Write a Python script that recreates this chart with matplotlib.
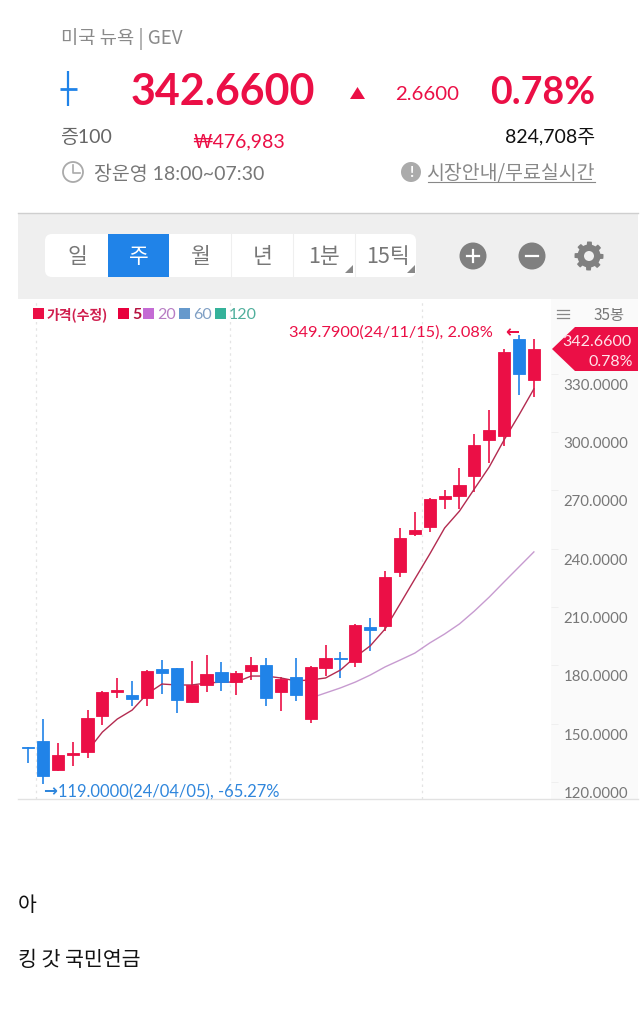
import numpy as np
import matplotlib
matplotlib.use('Agg')
import matplotlib.pyplot as plt
from matplotlib.patches import Rectangle, FancyBboxPatch, Circle, Polygon

plt.rcParams['font.family'] = ['Lato', 'Noto Sans CJK KR', 'DejaVu Sans']

# weekly candles
opens = [137.9, 141.1, 126.2, 134.1, 135.5, 154.0, 166.5, 164.8, 163.2, 178.1, 178.6, 161.2,
         169.9, 176.6, 171.4, 177.1, 180.2, 166.3, 174.0, 152.4, 178.6, 184.0, 181.7, 199.7,
         200.2, 228.0, 247.5, 251.1, 265.5, 267.1, 277.3, 295.9, 297.9, 347.8, 326.7]
highs = [137.9, 152.4, 140.1, 140.6, 157.0, 166.8, 173.5, 171.9, 177.6, 182.7, 178.6, 182.2,
         185.3, 181.7, 177.1, 184.3, 183.8, 174.0, 183.8, 179.7, 190.5, 186.9, 201.3, 204.3,
         228.5, 250.6, 258.8, 266.0, 270.1, 281.5, 298.9, 311.3, 342.6, 349.8, 347.8]
lows = [129.8, 119.0, 125.7, 128.3, 132.4, 149.3, 163.2, 159.1, 159.1, 165.3, 155.5, 160.6,
        166.3, 166.8, 164.8, 172.5, 159.1, 156.5, 161.7, 150.4, 174.5, 173.5, 179.2, 187.4,
        197.7, 225.4, 246.5, 248.6, 260.4, 260.4, 269.1, 284.0, 292.8, 319.0, 318.0]
closes = [137.3, 123.1, 133.9, 134.7, 152.9, 166.3, 167.1, 162.7, 177.1, 176.1, 162.2, 169.9,
          175.6, 171.4, 176.1, 180.2, 163.2, 173.0, 164.8, 179.2, 183.8, 183.5, 200.7, 198.2,
          225.4, 245.5, 249.6, 265.5, 267.1, 272.7, 293.3, 301.0, 341.1, 329.8, 342.66]

# moving averages start late, so they get their own first index
ma5_start = 4
ma5 = [136.0, 145.7, 152.4, 157.0, 165.3, 170.4, 169.9, 169.9, 170.9, 171.4, 171.4, 174.5,
       174.5, 173.5, 172.0, 172.5, 173.5, 177.6, 184.3, 190.0, 198.7, 211.5, 224.4, 237.2,
       250.6, 259.3, 270.7, 282.0, 295.9, 308.7, 322.1]
ma20_start = 19
ma20 = [163.2, 165.8, 168.4, 171.4, 175.0, 179.2, 182.7, 186.3, 191.5, 196.1, 201.3, 207.9,
        215.1, 222.9, 230.6, 238.3]

y_ticks = [120, 150, 180, 210, 240, 270, 300, 330]
grid_x = [0.54, 13.6, 26.5]

legend_items = [('5', '#E8003D', '#B5133F'), ('20', '#C46BD4', '#B77CC4'),
                ('60', '#6699CC', '#7F9FC4'), ('120', '#35B29A', '#4FAF9C')]
tabs = ['일', '주', '월', '년', '1분', '15틱']

RED = '#EB0F46'
BLUE = '#2083E8'
KR = ['Noto Sans CJK KR', 'DejaVu Sans']


def px_axes(fig, z):
    # overlay axes in image pixels
    a = fig.add_axes([0, 0, 1, 1], zorder=z)
    a.set_xlim(0, 640)
    a.set_ylim(1020, 0)
    a.axis('off')
    a.patch.set_alpha(0)
    return a


fig = plt.figure(figsize=(6.4, 10.2), dpi=100, facecolor='white')
bg = px_axes(fig, 0)
fg = px_axes(fig, 2)

# toolbar and side panel
bg.add_patch(Rectangle((18, 214), 620, 86, fc='#EFEFEF', ec='none'))
bg.plot([18, 638], [213.5, 213.5], color='#CFCFCF', lw=1)
bg.add_patch(Rectangle((551, 300), 87, 500, fc='#FAFAFA', ec='none'))
bg.plot([18, 638], [799.5, 799.5], color='#E2E2E2', lw=1)
bg.add_patch(FancyBboxPatch((45, 235), 371, 43, boxstyle='round,pad=0,rounding_size=7',
                            fc='white', ec='none'))
bg.add_patch(Rectangle((108, 235), 61, 43, fc=BLUE, ec='none'))
for x in [231, 293, 355]:
    bg.plot([x, x], [235, 278], color='#EFEFEF', lw=0.8)
tab_x = [77, 139, 201, 263, 324, 388]
for i, name in enumerate(tabs):
    bg.text(tab_x[i], 257, name, ha='center', va='center', fontsize=15.5, family=KR,
            color='white' if i == 1 else '#777777')
bg.add_patch(Polygon([[353, 266], [353, 274], [345, 274]], fc='#888888', ec='none'))
bg.add_patch(Polygon([[415, 266], [415, 274], [407, 274]], fc='#888888', ec='none'))

for cx in [473, 532]:
    bg.add_patch(Circle((cx, 257), 13.5, fc='#808080', ec='none'))
    bg.plot([cx - 6, cx + 6], [257, 257], color='white', lw=1.6)
bg.plot([473, 473], [251, 263], color='white', lw=1.6)

# gear
ang = np.linspace(0, 2 * np.pi, 97)
rad = 14.5 - 3 * (np.cos(8 * ang) < 0)
bg.add_patch(Polygon(np.c_[589 + rad * np.cos(ang), 257 + rad * np.sin(ang)], fc='#808080', ec='none'))
bg.add_patch(Circle((589, 257), 5, fc='#EFEFEF', ec='none'))

# candle chart, positioned so bar i lands where the picture has it
ax = fig.add_axes([18 / 640, 1 - 800 / 1020, 533 / 640, 500 / 1020], zorder=1)
ax.patch.set_alpha(0)
ax.set_xlim(-0.672, 35.15)
ax.set_ylim(111.3, 368.3)
for s in ax.spines.values():
    s.set_visible(False)
ax.set_xticks([])
ax.yaxis.tick_right()
ax.set_yticks(y_ticks)
ax.set_yticklabels([])
ax.tick_params(axis='y', length=5, width=0.6, color='#EDEDED', direction='out')

for gx in grid_x:
    ax.axvline(gx, color='#E4E4E4', lw=0.9, ls=(0, (2, 3)), zorder=0)

idx = np.arange(len(opens))
o = np.array(opens)
c = np.array(closes)
colors = [RED if c[i] >= o[i] else BLUE for i in idx]
ax.vlines(idx, lows, highs, colors=colors, lw=1.2, zorder=2)
ax.bar(idx, np.abs(c - o), bottom=np.minimum(o, c), width=0.82, color=colors,
       edgecolor=colors, linewidth=0.6, zorder=3)

ax.plot(np.arange(len(ma5)) + ma5_start, ma5, color='#B32B50', lw=1.0, zorder=2.5)
ax.plot(np.arange(len(ma20)) + ma20_start, ma20, color='#C79BD0', lw=1.0, zorder=2.5)

# axis labels sit under their tick in the app
for t in y_ticks:
    ax.annotate(f'{t:.4f}', (1, t), xycoords=('axes fraction', 'data'), xytext=(45, -11),
                textcoords='offset pixels', ha='center', va='center', fontsize=10.8, color='#777777')

ax.annotate('349.7900(24/11/15), 2.08%', (33, 349.79), xytext=(493, 1020 - 333), xycoords='data',
            textcoords='figure pixels', ha='right', va='center', fontsize=11.8, color=RED)
ax.annotate('\u2190', (33, 349.79), xytext=(512, 1020 - 332), xycoords='data',
            textcoords='figure pixels', ha='center', va='center', fontsize=12, color=RED,
            family='DejaVu Sans', fontweight='bold')
ax.annotate('\u2192', (1, 119), xytext=(50, 1020 - 791), xycoords='data',
            textcoords='figure pixels', ha='center', va='center', fontsize=12, color='#2F86DC',
            family='DejaVu Sans', fontweight='bold')
ax.annotate('119.0000(24/04/05), -65.27%', (1, 119), xytext=(58, 1020 - 792), xycoords='data',
            textcoords='figure pixels', ha='left', va='center', fontsize=11.9, color='#2F86DC')

# legend row
fg.add_patch(Rectangle((33, 309), 11, 11, fc=RED, ec='none'))
fg.text(47, 315, '가격(수정)', fontsize=10, fontweight='bold', color='#D0204F', va='center', family=KR)
leg_box = [118, 143, 179, 215]
for (label, box_col, txt_col), bx in zip(legend_items, leg_box):
    fg.add_patch(Rectangle((bx, 309), 11, 11, fc=box_col, ec='none'))
    fg.text(bx + 14, 315, label, fontsize=11.5, va='center', color=txt_col,
            fontweight='bold' if label == '5' else 'normal')

# price tag and corner info
fg.add_patch(Polygon([[552, 350], [575, 328], [638, 328], [638, 372], [575, 372]], fc=RED, ec='none'))
fg.text(632, 342, '342.6600', ha='right', va='center', fontsize=11.5, color='#FFE4EA')
fg.text(633, 362, '0.78%', ha='right', va='center', fontsize=11.5, color='#FFE4EA')
for y in [311, 315, 319]:
    fg.plot([557, 569], [y, y], color='#888888', lw=0.9)
fg.text(609, 316, '35봉', ha='center', va='center', fontsize=11, color='#777777', family=KR)

# header
fg.text(61, 39, '미국 뉴욕 | GEV', va='center', fontsize=13.5, color='#8A8A8A', family=KR)
fg.plot([68, 68], [72, 107], color=BLUE, lw=1.6, solid_capstyle='butt')
fg.plot([60, 77], [90, 90], color=BLUE, lw=2.0, solid_capstyle='butt')
fg.text(131, 92, '342.6600', va='center', fontsize=31, fontweight='bold', color=RED)
fg.add_patch(Polygon([[350, 100], [365, 100], [357.5, 88]], fc=RED, ec='none'))
fg.text(395, 95, '2.6600', va='center', fontsize=14.7, color=RED)
fg.text(595, 93, '0.78%', ha='right', va='center', fontsize=27, fontweight='bold', color=RED)
fg.text(60, 137, '증100', va='center', fontsize=14, color='#666666')
fg.text(192, 142, '₩476,983', va='center', fontsize=14, color=RED)
fg.text(595, 137, '824,708주', ha='right', va='center', fontsize=14, color='#111111')
fg.add_patch(Circle((73, 173), 10, fc='none', ec='#AAAAAA', lw=1.3))
fg.plot([73, 73, 80], [166, 174, 174], color='#AAAAAA', lw=1.2)
fg.text(94, 174, '장운영 18:00~07:30', va='center', fontsize=14, color='#777777')
fg.add_patch(Circle((411, 173), 10, fc='#ABABAB', ec='none'))
fg.text(411, 173, '!', ha='center', va='center', fontsize=11, fontweight='bold', color='white')
fg.text(595, 173, '시장안내/무료실시간', ha='right', va='center', fontsize=14, color='#888888', family=KR)
fg.plot([428, 595], [183, 183], color='#888888', lw=0.8)

# caption under the chart
fg.text(18, 905, '아', va='center', fontsize=14.8, color='#111111', family=KR)
fg.text(18, 960, '킹 갓 국민연금', va='center', fontsize=14.8, color='#111111', family=KR)

fig.savefig('out.png', dpi=100)
